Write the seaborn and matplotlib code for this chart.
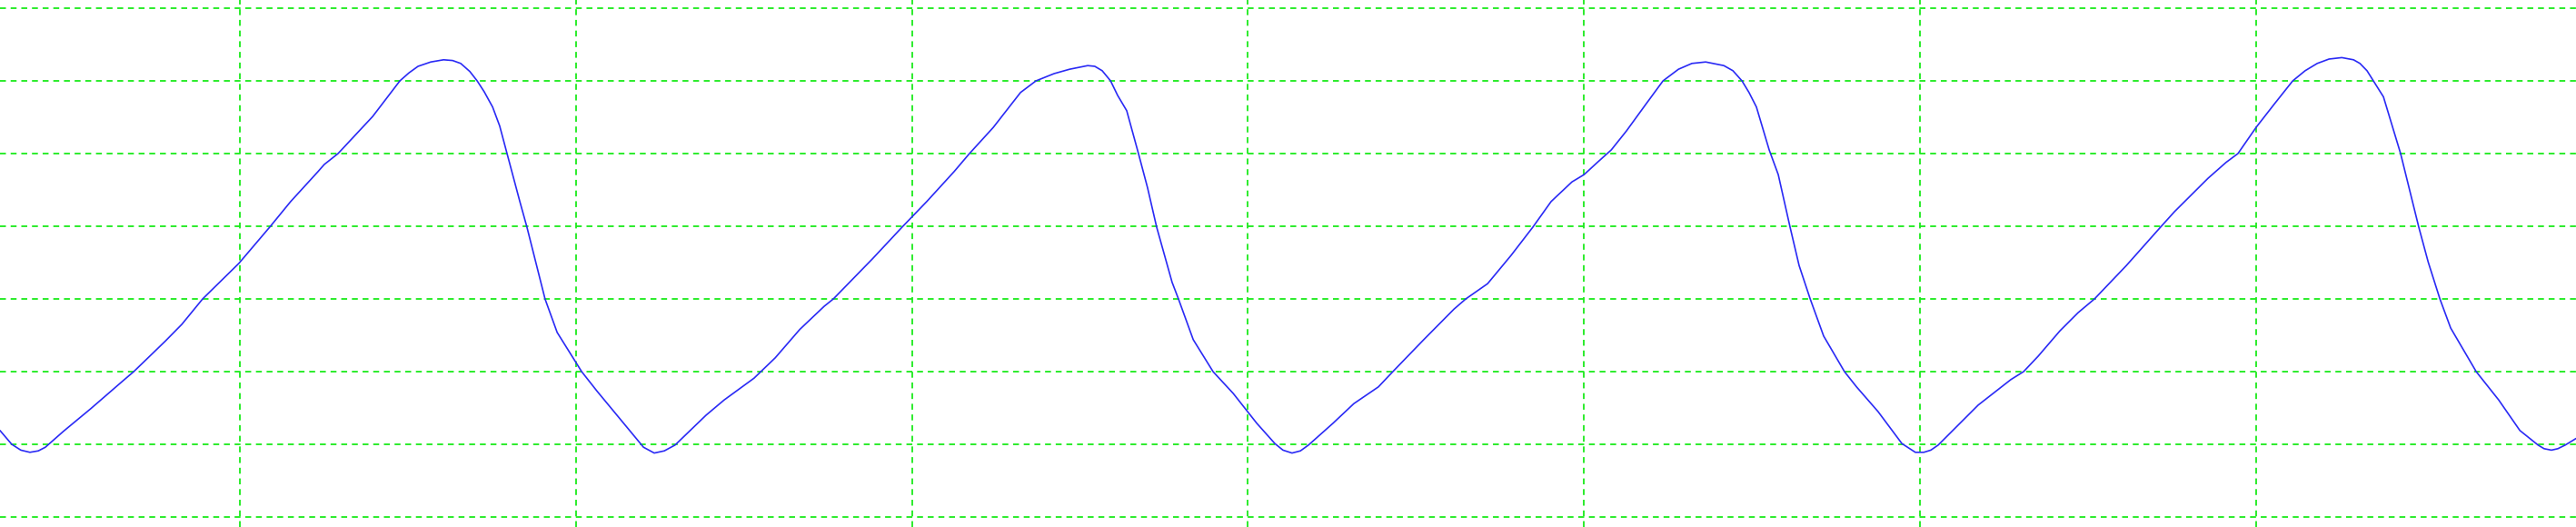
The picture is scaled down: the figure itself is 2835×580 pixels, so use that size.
import numpy as np
import pandas as pd
import seaborn as sns
import matplotlib.pyplot as plt

# sample index (x) and signal amplitude (y)
sample = [28.6, 32.1, 34.8, 37.5, 40.0, 42.1, 47.5, 55.6, 65.6, 68.4, 77.8, 82.7,
          88.9, 99.7, 108.9, 115.1, 123.2, 125.1, 129.2, 139.5, 147.6, 150.3,
          153.0, 156.8, 160.6, 163.3, 165.7, 168.4, 170.6, 172.7, 175.2, 177.3,
          179.5, 183.3, 185.4, 190.8, 194.4, 198.2, 201.7, 206.3, 213.3, 220.1,
          223.3, 226.3, 229.5, 238.7, 244.1, 253.0, 259.3, 266.6, 273.9, 276.6,
          288.2, 297.1, 304.4, 312.5, 317.1, 324.2, 332.3, 336.9, 342.3, 346.9,
          352.3, 354.4, 356.6, 359.1, 361.2, 363.9, 367.4, 370.1, 372.8, 377.4,
          379.3, 383.7, 389.6, 395.6, 402.6, 408.0, 410.4, 413.1, 415.6, 418.0,
          425.3, 431.5, 438.8, 443.1, 452.3, 461.3, 464.8, 471.3, 478.3, 484.8,
          490.2, 496.4, 500.0, 504.0, 508.1, 512.6, 518.1, 523.5, 528.1, 532.1,
          536.2, 541.6, 544.3, 547.0, 549.1, 551.3, 555.1, 557.8, 561.3, 564.0,
          567.3, 571.3, 577.5, 581.1, 587.5, 594.6, 598.6, 601.1, 603.2, 605.4,
          611.9, 617.3, 627.0, 630.8, 635.1, 641.6, 647.0, 651.9, 661.4, 671.6,
          675.7, 685.7, 691.1, 694.6, 700.0, 705.4, 710.9, 714.6, 718.2, 721.7,
          725.5, 729.0, 730.9, 733.0, 734.9, 737.9, 743.0, 748.4, 751.2, 754.7,
          757.9, 765.5, 772.2, 778.5, 783.9, 785.7, 787.9, 789.8, 792.0, 795.2]
amplitude = [1.19, 1.00, 0.92, 0.89, 0.91, 0.96, 1.18, 1.49, 1.89, 2.00, 2.42, 2.65,
             3.00, 3.49, 3.99, 4.34, 4.75, 4.85, 5.00, 5.51, 6.00, 6.11,
             6.20, 6.26, 6.29, 6.28, 6.24, 6.13, 6.00, 5.85, 5.64, 5.38,
             5.00, 4.34, 3.99, 3.00, 2.54, 2.26, 2.00, 1.73, 1.34, 0.96,
             0.88, 0.91, 0.99, 1.40, 1.61, 1.91, 2.19, 2.58, 2.90, 3.00,
             3.55, 3.99, 4.34, 4.75, 5.00, 5.36, 5.84, 6.00, 6.10, 6.16,
             6.21, 6.20, 6.14, 6.00, 5.80, 5.59, 5.00, 4.53, 3.99, 3.23,
             3.00, 2.44, 2.00, 1.70, 1.29, 1.01, 0.92, 0.88, 0.91, 0.99,
             1.29, 1.56, 1.79, 2.00, 2.44, 2.86, 3.00, 3.21, 3.60, 3.99,
             4.34, 4.61, 4.71, 4.88, 5.05, 5.31, 5.66, 6.00, 6.16, 6.24,
             6.26, 6.21, 6.14, 6.00, 5.84, 5.64, 5.05, 4.71, 3.99, 3.46,
             3.00, 2.49, 2.00, 1.79, 1.45, 1.01, 0.89, 0.89, 0.92, 0.99,
             1.29, 1.54, 1.89, 2.00, 2.21, 2.56, 2.81, 3.00, 3.46, 3.99,
             4.20, 4.66, 4.88, 5.00, 5.36, 5.68, 6.00, 6.14, 6.24, 6.30,
             6.32, 6.29, 6.24, 6.14, 6.00, 5.78, 5.00, 3.99, 3.51, 3.00,
             2.60, 2.00, 1.61, 1.19, 0.99, 0.94, 0.92, 0.94, 0.99, 1.08]

x_ticks = [100, 200, 300, 400, 500, 600, 700]
y_ticks = [0, 1, 2, 3, 4, 5, 6, 7]

df = pd.DataFrame({'sample': sample, 'amplitude': amplitude})

sns.set_style('white')
fig = plt.figure(figsize=(28.35, 5.8), dpi=100)
ax = fig.add_axes([0, 0, 1, 1])

sns.lineplot(data=df, x='sample', y='amplitude', ax=ax, color='#2a2af5',
             linewidth=1.2, estimator=None, zorder=3)

ax.set_xlim(28.6, 795.2)
ax.set_ylim(-0.1375, 7.1125)
ax.set_xticks(x_ticks)
ax.set_yticks(y_ticks)
ax.grid(True, color='#1aeb1a', linestyle=(0, (3.6, 2.9)), linewidth=1.3)
ax.tick_params(length=0, labelbottom=False, labelleft=False)
ax.set_xlabel('')
ax.set_ylabel('')
for s in ax.spines.values():
    s.set_visible(False)

fig.savefig('out.png', dpi=100)
